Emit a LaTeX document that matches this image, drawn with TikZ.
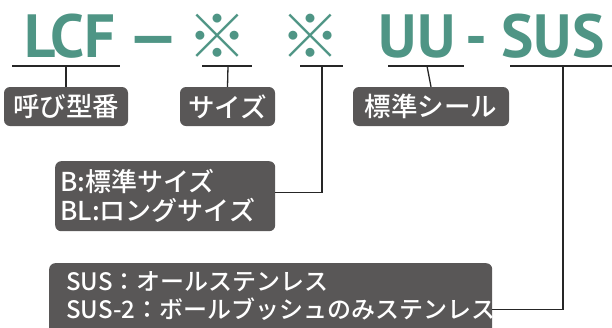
\documentclass[tikz,border=0pt]{standalone}
\usepackage{fontspec}
\setmainfont{Noto Sans CJK JP Medium}
\newfontfamily\ttlfont{PT Sans}
\newfontfamily\jpreg{Noto Sans CJK JP}
\definecolor{codegreen}{HTML}{4F9585}
\definecolor{boxgray}{HTML}{595757}
\tikzset{
  code/.style={inner sep=0, anchor=base, text=codegreen, font=\ttlfont\bfseries\fontsize{61}{61}\selectfont},
  refmk/.style={inner sep=0, anchor=base, text=codegreen, font=\jpreg\fontsize{60}{60}\selectfont},
  tag/.style={rounded corners=6pt, fill=boxgray, text=white, inner sep=0,
    minimum height=39, font=\fontsize{26.5}{29}\selectfont},
  infobox/.style={rounded corners=6pt, fill=boxgray, text=white, inner ysep=0,
    align=left, anchor=north west},
  lead/.style={line width=1.3pt, draw=black!85}
}
\begin{document}
\begin{tikzpicture}[x=1pt,y=-1pt]
\useasboundingbox (0,0) rectangle (612,327);
% code line
\node[code] (lcf) at (70,57) {LCF};
\node[code] (dash1) at (154,57) {—};
\node[refmk] (mk1) at (217,58) {※};
\node[refmk] (mk2) at (310,58) {※};
\node[code] (uu) at (417,57) {UU};
\node[code] (dash2) at (476,57) {-};
\node[code] (sus) at (553,57) {SUS};
% underlines
\coordinate (ul1a) at (12,66);  \coordinate (ul1b) at (120,66); \coordinate (ul1m) at (66,66);
\coordinate (ul2a) at (202,66); \coordinate (ul2b) at (252,66); \coordinate (ul2m) at (228,66);
\coordinate (ul3a) at (300,66); \coordinate (ul3b) at (343,66); \coordinate (ul3m) at (322,66);
\coordinate (ul4a) at (388,66); \coordinate (ul4b) at (464,66); \coordinate (ul4m) at (427,66);
\coordinate (ul5a) at (510,66); \coordinate (ul5b) at (612,66); \coordinate (ul5m) at (563,66);
% tags
\node[tag, minimum width=124] (bname) at (66,106.5) {呼び型番};
\node[tag, minimum width=95] (bsize) at (227.5,106.5) {サイズ};
\node[tag, minimum width=156] (bseal) at (431,106.5) {標準シール};
\node[infobox, inner xsep=5pt, minimum width=220, minimum height=70, text width=210,
  font=\fontsize{26}{29}\selectfont] (bmk) at (55,161)
  {B:標準サイズ\\BL:ロングサイズ};
\node[infobox, inner xsep=17pt, minimum width=443, text width=409,
  font=\fontsize{24}{28}\selectfont] (bsus) at (49,263)
  {\rule{0pt}{27pt}SUS：オールステンレス\\SUS-2：ボールブッシュのみステンレス\rule[-22pt]{0pt}{22pt}};
% leaders
\draw[lead] (ul1a) -- (ul1b);
\draw[lead] (ul1m) -- (bname.north);
\draw[lead] (ul2a) -- (ul2b);
\draw[lead] (ul2m) -- (bsize.north);
\draw[lead] (ul3a) -- (ul3b);
\draw[lead] (ul3m) |- ([yshift=4pt]bmk.east);
\draw[lead] (ul4a) -- (ul4b);
\draw[lead] (ul4m) -- (bseal.north);
\draw[lead] (ul5a) -- (ul5b);
\draw[lead] (ul5m) |- ([yshift=-8pt]bsus.east);
\end{tikzpicture}
\end{document}
